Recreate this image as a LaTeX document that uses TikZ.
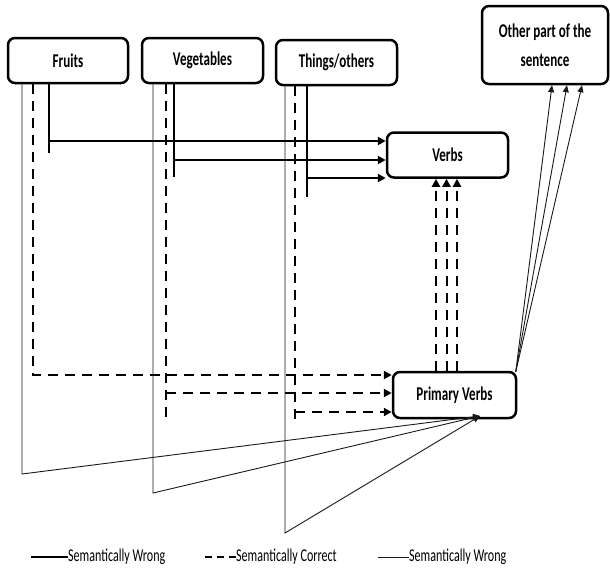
\documentclass[tikz,border=0pt]{standalone}
\usepackage{fontspec}
\setmainfont{Carlito}[FakeStretch=0.67]
\usetikzlibrary{arrows.meta,calc}
\begin{document}
\begin{tikzpicture}[x=1pt,y=-1pt,
  box/.style={draw, line width=2.5pt, rounded corners=7pt, inner sep=0pt, align=center,
    font=\fontsize{19.5}{29}\selectfont\bfseries},
  thickline/.style={line width=2pt},
  dashline/.style={line width=2pt, dash pattern=on 10pt off 7pt},
  thinline/.style={line width=0.9pt, black!90},
  tip/.style={-{Triangle[length=8pt,width=8pt]}},
  thintip/.style={-{Triangle[length=7pt,width=6pt]}},
  legend/.style={anchor=west, inner sep=0pt, font=\fontsize{18}{20}\selectfont}]
\useasboundingbox (0,0) rectangle (610,571);

% boxes
\node[box, minimum width=120pt, minimum height=45pt] (fruits) at (68,60.5) {Fruits};
\node[box, minimum width=121pt, minimum height=45pt] (veg) at (202.5,60.5) {Vegetables};
\node[box, minimum width=121pt, minimum height=45pt] (things) at (336.5,62.5) {Things/others};
\node[box, minimum width=121pt, minimum height=45pt] (verbs) at (447.5,155) {Verbs};
\node[box, minimum width=126pt, minimum height=78pt] (other) at (545,45) {Other part of the\\sentence};
\node[box, minimum width=123pt, minimum height=46pt] (prim) at (454.5,395) {Primary Verbs};

% coordinates
\coordinate (fk) at (49,141);
\coordinate (vk) at (174,160);
\coordinate (tk) at (307,178);
\coordinate (fd) at (33,375);
\coordinate (vd) at (166,393);
\coordinate (td) at (295,412);
\coordinate (ft) at (22,474);
\coordinate (vt) at (153,493);
\coordinate (tt) at (285,533);
\coordinate (conv) at (480,416);

% thick (semantically wrong) lines to Verbs
\draw[thickline] (fruits.south -| fk) -- ($(fk)+(0,12)$);
\draw[thickline,tip] (fk) -- (fk -| verbs.west);
\draw[thickline] (veg.south -| vk) -- ($(vk)+(0,17)$);
\draw[thickline,tip] (vk) -- (vk -| verbs.west);
\draw[thickline] (things.south -| tk) -- ($(tk)+(0,19)$);
\draw[thickline,tip] (tk) -- (tk -| verbs.west);

% dashed (semantically correct) lines to Primary Verbs
\draw[dashline,tip] (fruits.south -| fd) -- (fd) -- (fd -| prim.west);
\draw[dashline] (veg.south -| vd) -- ($(vd)+(0,24)$);
\draw[dashline,tip] (vd) -- (vd -| prim.west);
\draw[dashline] (things.south -| td) -- ($(td)+(0,11)$);
\draw[dashline,tip] (td) -- (td -| prim.west);

% dashed from Primary Verbs to Verbs
\foreach \xx in {436,446.5,457}
  \draw[dashline,tip] (prim.north -| \xx,0) -- (verbs.south -| \xx,0);

% thin lines to Primary Verbs
\draw[thinline,thintip] (fruits.south -| ft) -- (ft) -- (conv);
\draw[thinline,thintip] (veg.south -| vt) -- (vt) -- (conv);
\draw[thinline,thintip] (things.south -| tt) -- (tt) -- (conv);

% thin lines to Other part
\foreach \xx in {552,567,582}
  \draw[thinline,thintip] ($(prim.north east)+(-1.5,1)$) -- (other.south -| \xx,0);

% legend
\node[legend] (l1) at (68,557) {Semantically Wrong};
\node[legend] (l2) at (236,557) {Semantically Correct};
\node[legend] (l3) at (409,557) {Semantically Wrong};
\draw[thickline] (l1.west) -- ++(-37,0);
\draw[line width=2pt, dash pattern=on 7pt off 5pt] (l2.west) -- ++(-31,0);
\draw[thinline] (l3.west) -- ++(-31,0);
\end{tikzpicture}
\end{document}
